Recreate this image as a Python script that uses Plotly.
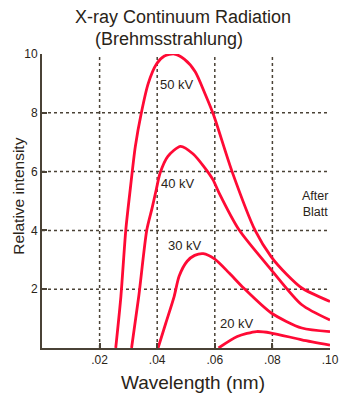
import plotly.graph_objects as go

# ---- data ----
wl_50 = [0.0256, 0.0274, 0.0291, 0.0307, 0.0324, 0.0345, 0.0369, 0.0397, 0.0425, 0.0459, 0.0495, 0.0532, 0.0566, 0.0595, 0.0660, 0.0740, 0.0796, 0.0850, 0.0902, 0.1000]
in_50 = [0.0, 1.76, 4.02, 5.45, 6.85, 8.00, 9.00, 9.65, 9.93, 10.0, 9.82, 9.40, 8.65, 7.95, 6.00, 4.00, 3.10, 2.50, 2.04, 1.58]

wl_40 = [0.0311, 0.0336, 0.0364, 0.0382, 0.0397, 0.0410, 0.0437, 0.0481, 0.0525, 0.0566, 0.0594, 0.0616, 0.0684, 0.0796, 0.0902, 0.1000]
in_40 = [0.0, 1.76, 4.02, 4.75, 5.40, 5.95, 6.52, 6.86, 6.60, 6.12, 5.72, 5.25, 4.02, 2.66, 1.47, 0.95]

wl_30 = [0.0403, 0.0430, 0.0459, 0.0476, 0.0504, 0.0530, 0.0560, 0.0599, 0.0650, 0.0700, 0.0796, 0.0902, 0.1000]
in_30 = [0.0, 0.85, 1.76, 2.44, 2.95, 3.15, 3.21, 3.03, 2.55, 2.04, 1.19, 0.68, 0.56]

wl_20 = [0.0613, 0.0678, 0.0745, 0.0796, 0.0902, 0.1000]
in_20 = [0.0, 0.39, 0.56, 0.51, 0.28, 0.10]

series = [("50 kV", wl_50, in_50), ("40 kV", wl_40, in_40),
          ("30 kV", wl_30, in_30), ("20 kV", wl_20, in_20)]

label_x = [0.0468, 0.0471, 0.0496, 0.0678]
label_y = [8.96, 5.59, 3.48, 0.82]

x_ticks = [0.02, 0.04, 0.06, 0.08, 0.10]
x_tick_text = [".02", ".04", ".06", ".08", ".10"]
y_ticks = [2, 4, 6, 8, 10]
y_tick_text = ["2", "4", "6", "8", "10"]
x_grid = [0.02, 0.04, 0.06, 0.08]
y_grid = [2, 4, 6, 8]

RED = "#ff0a35"
TXT = "#2a2418"
AX = "#4a4236"
FONT = "Liberation Sans, Arial, sans-serif"

L, R, T, B = 42, 12, 54, 51
W, H = 351, 399
pw, ph = W - L - R, H - T - B


def px_x(p):
    return (p - L) / pw


def px_y(p):
    return (H - p - B) / ph


fig = go.Figure()
for name, xs, ys in series:
    fig.add_trace(go.Scatter(x=xs, y=ys, mode="lines", name=name,
                             line=dict(color=RED, width=2.8, shape="spline", smoothing=0.7),
                             showlegend=False, hoverinfo="skip"))

shapes = []
for gx in x_grid:
    shapes.append(dict(type="line", xref="x", yref="y", x0=gx, x1=gx, y0=0, y1=10,
                       line=dict(color=AX, width=1.5, dash="dot"), layer="below"))
for gy in y_grid:
    shapes.append(dict(type="line", xref="x", yref="y", x0=0, x1=0.1, y0=gy, y1=gy,
                       line=dict(color=AX, width=1.5, dash="dot"), layer="below"))

annotations = []
for (name, _, _), lx, ly in zip(series, label_x, label_y):
    annotations.append(dict(x=lx, y=ly, xref="x", yref="y", text=name, showarrow=False,
                            xanchor="center", yanchor="middle",
                            font=dict(family=FONT, size=13, color=TXT)))
annotations.append(dict(x=0.0948, y=4.91, xref="x", yref="y", text="After<br>Blatt",
                        showarrow=False, align="center", xanchor="center", yanchor="middle",
                        font=dict(family=FONT, size=12.5, color=TXT)))
annotations.append(dict(x=px_x(187), y=px_y(17), xref="paper", yref="paper",
                        text="X-ray Continuum Radiation", showarrow=False,
                        xanchor="center", yanchor="middle",
                        font=dict(family=FONT, size=18, color=TXT)))
annotations.append(dict(x=px_x(172.5), y=px_y(39.5), xref="paper", yref="paper",
                        text="(Brehmsstrahlung)", showarrow=False,
                        xanchor="center", yanchor="middle",
                        font=dict(family=FONT, size=18, color=TXT)))
annotations.append(dict(x=px_x(197.5), y=px_y(382), xref="paper", yref="paper",
                        text="Wavelength (nm)", showarrow=False,
                        xanchor="center", yanchor="middle",
                        font=dict(family=FONT, size=19, color=TXT)))
annotations.append(dict(x=px_x(17), y=px_y(196), xref="paper", yref="paper",
                        text="Relative intensity", showarrow=False, textangle=-90,
                        xanchor="center", yanchor="middle",
                        font=dict(family=FONT, size=15.5, color=TXT)))

fig.update_layout(
    width=W, height=H,
    margin=dict(l=L, r=R, t=T, b=B),
    paper_bgcolor="white", plot_bgcolor="white",
    shapes=shapes, annotations=annotations,
    font=dict(family=FONT, color=TXT),
    xaxis=dict(range=[0, 0.1], tickvals=x_ticks, ticktext=x_tick_text,
               ticks="inside", ticklen=5, tickwidth=1.5, tickcolor=AX,
               showgrid=False, zeroline=False, showline=True, linecolor=AX, linewidth=2,
               tickfont=dict(size=12, color=TXT)),
    yaxis=dict(range=[0, 10], tickvals=y_ticks, ticktext=y_tick_text,
               ticks="inside", ticklen=5, tickwidth=1.5, tickcolor=AX,
               showgrid=False, zeroline=False, showline=True, linecolor=AX, linewidth=2,
               tickfont=dict(size=12, color=TXT)),
)

fig.write_html("out.html")
